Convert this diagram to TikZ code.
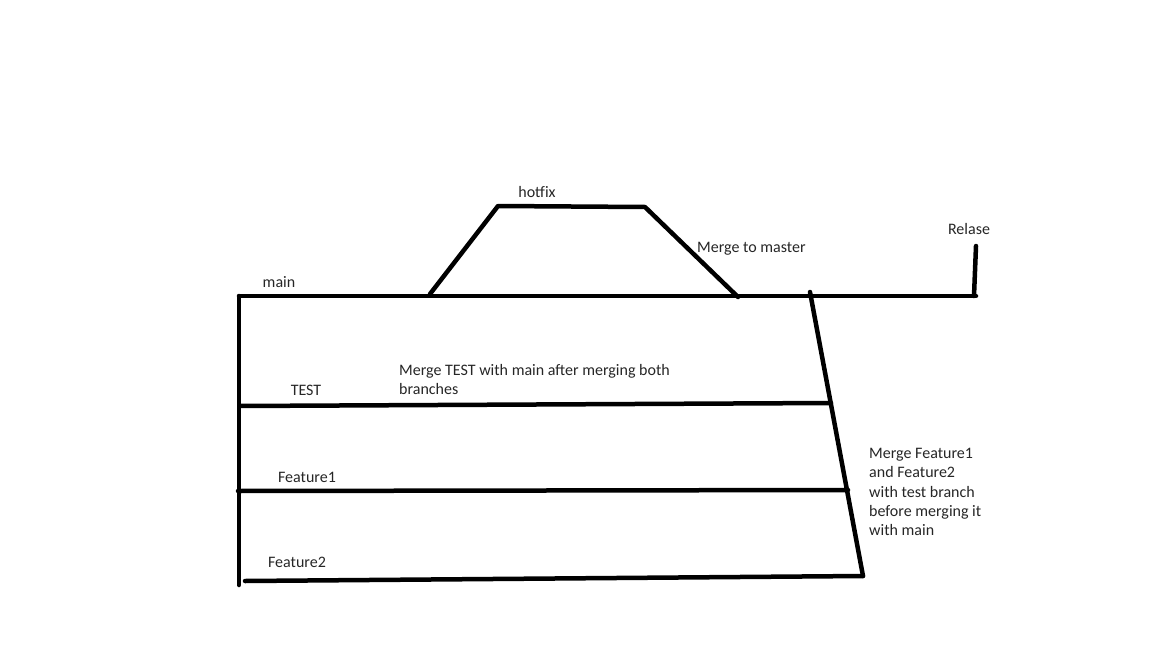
\documentclass[tikz,border=0pt]{standalone}
\usepackage{fontspec}
\setmainfont{Carlito}
\definecolor{txt}{HTML}{262626}
\begin{document}
\begin{tikzpicture}[x=1pt,y=-1pt,
  pen/.style={line width=4.5pt,line cap=round,line join=round,black},
  lbl/.style={font=\fontsize{16}{19.3}\selectfont,text=txt,inner sep=0pt},
  lbll/.style={lbl,anchor=west,align=left}]
\useasboundingbox (0,0) rectangle (1152,648);
% coordinates
\coordinate (m0) at (239,296);
\coordinate (m1) at (976,296);
\coordinate (h0) at (430,294);
\coordinate (h1) at (498,206);
\coordinate (h2) at (645,207);
\coordinate (h3) at (738,297);
\coordinate (r0) at (976,246);
\coordinate (r1) at (974,296);
\coordinate (s0) at (810,292);
\coordinate (s1) at (863,576);
\coordinate (v1) at (239,585);
\coordinate (t0) at (240,406);
\coordinate (t1) at (831,403);
\coordinate (f0) at (238,491);
\coordinate (f1) at (848,490);
\coordinate (g0) at (245,581);
\coordinate (g1) at (863,576);
% lines
\draw[pen] (m0) -- (m1);
\draw[pen] (m0) -- (v1);
\draw[pen] (h0) -- (h1) -- (h2) -- (h3);
\draw[pen] (r0) -- (r1);
\draw[pen] (s0) -- (s1);
\draw[pen] (t0) -- (t1);
\draw[pen] (f0) -- (f1);
\draw[pen] (g0) -- (g1);
% labels
\node[lbl] (lhot) at (537,192) {hotfix};
\node[lbl] (lmain) at (279,282) {main};
\node[lbll] (lmtm) at (697,249) {Merge to master};
\node[lbl] (lrel) at (969,229) {Relase};
\node[lbl] (ltest) at (306,390) {TEST};
\node[lbll,anchor=north west] (lmt) at (399,364) {Merge TEST with main after merging both\\branches};
\node[lbl] (lf1) at (307,477) {Feature1};
\node[lbl] (lf2) at (297,562) {Feature2};
\node[lbll,anchor=north west] (lmf) at (869,448) {Merge Feature1\\and Feature2\\with test branch\\before merging it\\with main};
\end{tikzpicture}
\end{document}
